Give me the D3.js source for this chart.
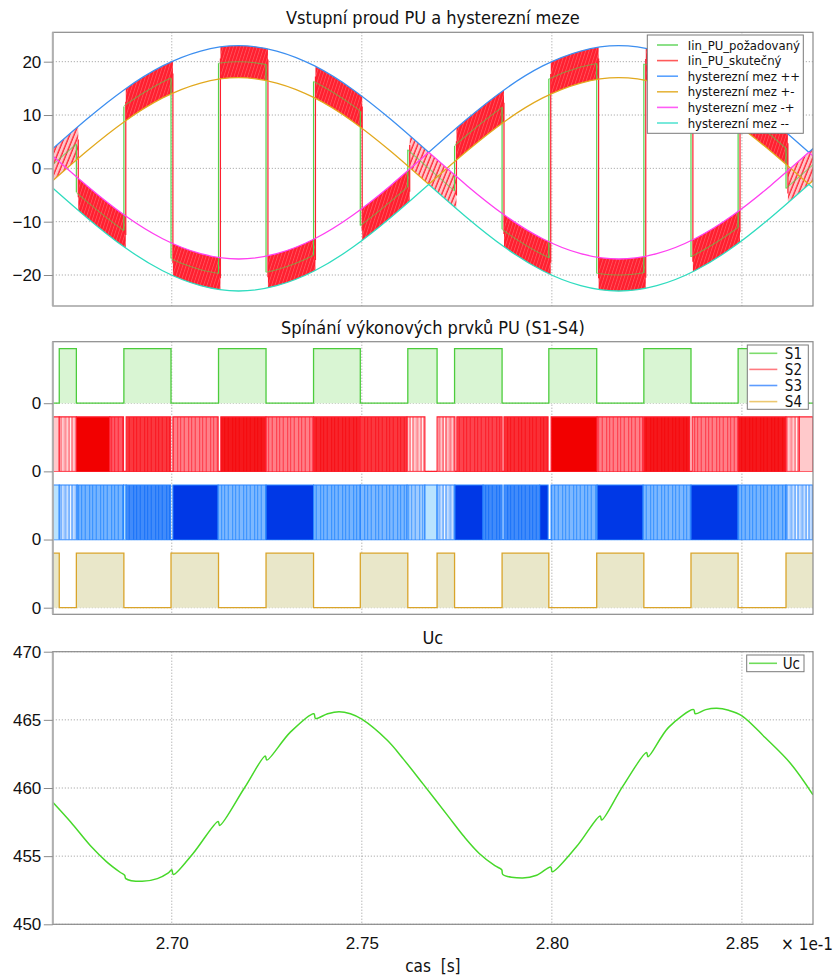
<!DOCTYPE html>
<html><head><meta charset="utf-8">
<script src="https://cdn.jsdelivr.net/npm/d3@7"></script>
<style>
body{margin:0;background:#fff;}
svg{display:block;font-family:"DejaVu Sans Condensed","DejaVu Sans",sans-serif;font-stretch:condensed;}
</style></head><body>
<svg id="chart" width="836" height="979"></svg>
<script>
// ---------------- data ----------------
const timeDomain = [2.6687, 2.8687];           // × 1e-1 s
const xTickValues = [2.70, 2.75, 2.80, 2.85];

// reference input current (signed) sampled every 1e-2 (× 1e-1 s)
const refTime = [2.6576, 2.6676, 2.6776, 2.6876, 2.6976, 2.7076, 2.7176, 2.7276, 2.7376, 2.7476, 2.7576, 2.7676,
                 2.7776, 2.7876, 2.7976, 2.8076, 2.8176, 2.8276, 2.8376, 2.8476, 2.8576, 2.8676, 2.8776];
const refValue = [-6.2, 0.0, 6.2, 11.8, 16.2, 19.0, 20.0, 19.0, 16.2, 11.8, 6.2, 0.0,
                  -6.2, -11.8, -16.2, -19.0, -20.0, -19.0, -16.2, -11.8, -6.2, 0.0, 6.2];
// hysteresis limits at the same instants
const boundPP = [9.2, 3.0, 9.2, 14.8, 19.2, 22.0, 23.0, 22.0, 19.2, 14.8, 9.2, 3.0, 9.2, 14.8, 19.2, 22.0, 23.0, 22.0, 19.2, 14.8, 9.2, 3.0, 9.2];
const boundPM = [3.2, -3.0, 3.2, 8.8, 13.2, 16.0, 17.0, 16.0, 13.2, 8.8, 3.2, -3.0, 3.2, 8.8, 13.2, 16.0, 17.0, 16.0, 13.2, 8.8, 3.2, -3.0, 3.2];
const boundMP = [-3.2, 3.0, -3.2, -8.8, -13.2, -16.0, -17.0, -16.0, -13.2, -8.8, -3.2, 3.0, -3.2, -8.8, -13.2, -16.0, -17.0, -16.0, -13.2, -8.8, -3.2, 3.0, -3.2];
const boundMM = [-9.2, -3.0, -9.2, -14.8, -19.2, -22.0, -23.0, -22.0, -19.2, -14.8, -9.2, -3.0, -9.2, -14.8, -19.2, -22.0, -23.0, -22.0, -19.2, -14.8, -9.2, -3.0, -9.2];
const hystHalfWidth = 3;

// polarity of the requested current between its switching instants
const polarityTimes = [2.6687, 2.6749, 2.6874, 2.6998, 2.7123, 2.7248, 2.7373, 2.7496, 2.7621, 2.7744,
                       2.7869, 2.7992, 2.8118, 2.8242, 2.8366, 2.8490, 2.8616, 2.8687];
const polaritySign = [1, -1, 1, -1, 1, -1, 1, -1, 1, -1, 1, -1, 1, -1, 1, -1, 1];
// slow ripple near the zero crossings (1) or fast ripple (0)
const polaritySparse = [1, 0, 0, 0, 0, 0, 0, 0, 1, 0, 0, 0, 0, 0, 0, 0, 1];
// |reference| at each interior polarity change
const refAtSwitch = [4.5, 11.6, 16.9, 19.7, 19.5, 16.3, 10.7, 3.5, 4.2, 11.4, 16.8, 19.7, 19.6, 16.6, 11.1, 3.8];
const currentLag = 0.0005;

// gate signals S1 / S4 (complementary)
const s1Edges = [2.6704, 2.6749, 2.6874, 2.6998, 2.7123, 2.7248, 2.7373, 2.7496, 2.7621, 2.7698,
                 2.7744, 2.7869, 2.7992, 2.8118, 2.8242, 2.8366, 2.8490, 2.8616];
const s1Initial = 0;
const s4Initial = 1;

// S2 / S3 high-frequency switching: [start, end, pulse density]
const s2Segments = [
  [2.6687, 2.6704, 0.1], [2.6704, 2.6749, 0.3], [2.6749, 2.6837, 1.0], [2.6837, 2.6873, 0.8],
  [2.6880, 2.6997, 0.88], [2.7003, 2.7122, 0.7], [2.7129, 2.7248, 0.95], [2.7248, 2.7373, 0.7],
  [2.7373, 2.7496, 0.92], [2.7496, 2.7619, 0.88], [2.7619, 2.7666, 0.3], [2.7698, 2.7745, 0.35],
  [2.7750, 2.7869, 0.85], [2.7874, 2.7990, 0.9], [2.7998, 2.8119, 1.0], [2.8119, 2.8240, 0.7],
  [2.8242, 2.8363, 0.95], [2.8369, 2.8490, 0.7], [2.8490, 2.8616, 0.95], [2.8616, 2.8651, 0.3],
  [2.8651, 2.8687, 0.1]
];
const s3Segments = [
  [2.6687, 2.6704, 0.1], [2.6704, 2.6751, 0.35], [2.6751, 2.6873, 0.72], [2.6873, 2.6880, 0.1],
  [2.6880, 2.6997, 0.85], [2.7003, 2.7122, 1.0], [2.7122, 2.7248, 0.7], [2.7248, 2.7373, 1.0],
  [2.7373, 2.7496, 0.72], [2.7496, 2.7619, 0.7], [2.7619, 2.7666, 0.6], [2.7666, 2.7698, 0.1],
  [2.7698, 2.7745, 0.35], [2.7745, 2.7819, 1.0], [2.7819, 2.7869, 0.85], [2.7874, 2.7968, 0.85],
  [2.7968, 2.7990, 1.0], [2.7998, 2.8119, 0.7], [2.8119, 2.8240, 1.0], [2.8240, 2.8366, 0.7],
  [2.8366, 2.8490, 1.0], [2.8490, 2.8616, 0.72], [2.8616, 2.8687, 0.35]
];

// DC-link voltage Uc
const ucTime = [2.6687, 2.6734, 2.6788, 2.6828, 2.6865, 2.6876, 2.6879, 2.6922, 2.6962, 2.6990, 2.7000, 2.7004,
  2.7056, 2.7122, 2.7126, 2.7191, 2.7246, 2.7250, 2.7312, 2.7374, 2.7378, 2.7410, 2.7440, 2.7470, 2.7500,
  2.7567, 2.7610, 2.7661, 2.7728, 2.7770, 2.7809, 2.7850, 2.7868, 2.7871, 2.7923, 2.7960, 2.7997, 2.8001,
  2.8065, 2.8127, 2.8131, 2.8186, 2.8249, 2.8253, 2.8307, 2.8373, 2.8377, 2.8405, 2.8434, 2.8465, 2.8500,
  2.8561, 2.8628, 2.8687];
const ucValue = [458.95, 457.5, 455.7, 454.6, 453.8, 453.6, 453.35, 453.15, 453.35, 453.75, 454.0, 453.65,
  455.2, 457.55, 457.25, 460.0, 462.35, 462.05, 464.1, 465.45, 465.1, 465.45, 465.6, 465.45, 465.05,
  463.5, 462.1, 460.3, 457.9, 456.4, 455.2, 454.3, 454.0, 453.65, 453.4, 453.6, 454.2, 453.85,
  455.7, 457.95, 457.65, 460.1, 462.6, 462.3, 464.45, 465.75, 465.45, 465.75, 465.85, 465.7, 465.3,
  463.7, 461.8, 459.5];

const currentTicks = [-20, -10, 0, 10, 20];
const switchOffsets = [3.75, 2.5, 1.25, 0];     // S1..S4 stacking
const voltageTicks = [450, 455, 460, 465, 470];

const currentLegend = ["Iin_PU_požadovaný", "Iin_PU_skutečný", "hysterezní mez ++", "hysterezní mez +-", "hysterezní mez -+", "hysterezní mez --"];
const switchLegend = ["S1", "S2", "S3", "S4"];

// ---------------- layout & style ----------------
const plotLeft = 52.8, plotRight = 813;
const P1 = {top: 32.3, bottom: 306, domain: [-25.81, 25.51]};
const P2 = {top: 341.7, bottom: 614.3, domain: [-0.121, 4.878]};
const P3 = {top: 651.7, bottom: 924.3, domain: [450, 470]};

const C = {
  green: "#55d24a", red: "#ff1f2f", blue: "#3d8ff0", orange: "#e2a91e", magenta: "#ff40f0", cyan: "#2fdcbf",
  s1: "#4ccc3c", s1Fill: "#d9f5d3", s2: "#ff2030", s3: "#2a86ff", s4: "#d9a42a", s4Fill: "#e9e7c9",
  uc: "#47d82a", frame: "#8a8a8a", grid: "#9a9a9a"
};
const legendColors1 = ["#6fd86a", "#ff5a5a", "#5aa2ff", "#e6b640", "#ff5cf6", "#58e4d2"];
const legendColors2 = ["#7ddc6c", "#ff7a80", "#5c9cff", "#ecc870"];
// positions of thin streaks inside one texture tile of the PWM bands
const streakTile = 11, streakPos = [0.4, 1.9, 3.1, 4.9, 6.0, 7.6, 9.3, 10.2];

const svg = d3.select("#chart");
const defs = svg.append("defs");
const x = d3.scaleLinear().domain(timeDomain).range([plotLeft, plotRight]);

function yScale(p) { return d3.scaleLinear().domain(p.domain).range([p.bottom, p.top]); }

let clipId = 0;
function plotClip(p) {
  const id = "clip" + (clipId++);
  defs.append("clipPath").attr("id", id).append("rect")
    .attr("x", plotLeft).attr("y", p.top).attr("width", plotRight - plotLeft).attr("height", p.bottom - p.top);
  return "url(#" + id + ")";
}

function drawGrid(g, p, y, yTicks) {
  g.append("g").selectAll("line").data(xTickValues).join("line")
    .attr("x1", d => x(d)).attr("x2", d => x(d)).attr("y1", p.top).attr("y2", p.bottom)
    .attr("stroke", C.grid).attr("stroke-width", 1).attr("stroke-dasharray", "1,2");
  g.append("g").selectAll("line").data(yTicks).join("line")
    .attr("x1", plotLeft).attr("x2", plotRight).attr("y1", d => y(d)).attr("y2", d => y(d))
    .attr("stroke", C.grid).attr("stroke-width", 1).attr("stroke-dasharray", "1,2");
}

function drawFrame(g, p, y, ticks, fmt) {
  g.append("rect").attr("x", plotLeft).attr("y", p.top).attr("width", plotRight - plotLeft).attr("height", p.bottom - p.top)
    .attr("fill", "none").attr("stroke", C.frame).attr("stroke-width", 1.2);
  g.append("line").attr("x1", plotLeft).attr("x2", plotLeft).attr("y1", p.top).attr("y2", p.bottom)
    .attr("stroke", "#b0b0b0").attr("stroke-width", 2);
  const ax = g.append("g").attr("transform", `translate(${plotLeft},0)`)
    .call(d3.axisLeft(y).tickValues(ticks).tickSize(9).tickPadding(2.5).tickFormat(fmt));
  ax.select(".domain").remove();
  ax.selectAll(".tick line").attr("stroke", C.frame);
  ax.selectAll(".tick text").attr("font-size", 17).attr("fill", "#111").attr("font-family", null);
}

function drawTitle(p, text) {
  svg.append("text").attr("x", (plotLeft + plotRight) / 2).attr("y", p.top - 8)
    .attr("text-anchor", "middle").attr("font-size", 18).attr("fill", "#111").text(text);
}

function drawLegend(box, names, colors, opt) {
  const g = svg.append("g");
  g.append("rect").attr("x", box.x).attr("y", box.y).attr("width", box.w).attr("height", box.h)
    .attr("fill", "#fff").attr("stroke", "#7a7a7a").attr("stroke-width", 1);
  names.forEach((n, i) => {
    const cy = box.y + opt.first + i * opt.step;
    g.append("line").attr("x1", opt.lx1).attr("x2", opt.lx2).attr("y1", cy).attr("y2", cy)
      .attr("stroke", colors[i]).attr("stroke-width", 1.6);
    g.append("text").attr("x", opt.tx).attr("y", cy).attr("dy", "0.36em")
      .attr("text-anchor", opt.anchor).attr("font-size", opt.fs).attr("fill", "#111").text(n);
  });
}

// ---------------- panel 1: input current ----------------
{
  const y = yScale(P1);
  const g = svg.append("g");
  drawGrid(g, P1, y, currentTicks);
  const plot = g.append("g").attr("clip-path", plotClip(P1));

  const ref = refTime.map((t, i) => ({t, v: refValue[i]}));

  // clip regions for each polarity (reference instant / lagging current)
  function polarityClip(sign, lag, sparse) {
    const id = "clip" + (clipId++);
    const cp = defs.append("clipPath").attr("id", id);
    polaritySign.forEach((s, i) => {
      if (s !== sign) return;
      if (sparse !== undefined && polaritySparse[i] !== sparse) return;
      const a = polarityTimes[i] + (i > 0 ? lag : 0), b = polarityTimes[i + 1] + (i + 1 < polarityTimes.length - 1 ? lag : 0);
      cp.append("rect").attr("x", x(a)).attr("y", P1.top).attr("width", Math.max(0, x(b) - x(a))).attr("height", P1.bottom - P1.top);
    });
    return "url(#" + id + ")";
  }

  // ripple texture of the measured current: fast ripple and slow ripple near zero
  const dense = defs.append("pattern").attr("id", "rippleDense").attr("patternUnits", "userSpaceOnUse")
    .attr("width", 3.4).attr("height", 40).attr("patternTransform", "skewX(-18)");
  dense.append("rect").attr("x", -1).attr("width", 6).attr("height", 40).attr("fill", C.red);
  dense.append("line").attr("x1", 0.5).attr("x2", 0.5).attr("y1", 0).attr("y2", 40)
    .attr("stroke", "#ff7c86").attr("stroke-width", 0.5);
  const sparse = defs.append("pattern").attr("id", "rippleSparse").attr("patternUnits", "userSpaceOnUse")
    .attr("width", 4.4).attr("height", 40).attr("patternTransform", "skewX(-22)");
  sparse.append("rect").attr("x", -1).attr("width", 7).attr("height", 40).attr("fill", "#ffc4c8");
  sparse.append("line").attr("x1", 1).attr("x2", 1).attr("y1", 0).attr("y2", 40)
    .attr("stroke", C.red).attr("stroke-width", 1.4);

  [1, -1].forEach(sign => {
    const band = d3.area().curve(d3.curveNatural)
      .x(d => x(d.t)).y0(d => y(sign * d.v - hystHalfWidth)).y1(d => y(sign * d.v + hystHalfWidth));
    plot.append("path").datum(ref).attr("d", band).attr("fill", "url(#rippleDense)")
      .attr("clip-path", polarityClip(sign, currentLag, 0));
    plot.append("path").datum(ref).attr("d", band).attr("fill", "url(#rippleSparse)")
      .attr("clip-path", polarityClip(sign, currentLag, 1));
  });
  // current transitions between the bands
  plot.append("g").selectAll("line").data(refAtSwitch).join("line")
    .attr("x1", (d, i) => x(polarityTimes[i + 1] + currentLag)).attr("x2", (d, i) => x(polarityTimes[i + 1] + currentLag))
    .attr("y1", d => y(d + hystHalfWidth * 0.3)).attr("y2", d => y(-d - hystHalfWidth * 0.3))
    .attr("stroke", C.red).attr("stroke-width", 1.2);

  // requested current
  [1, -1].forEach(sign => {
    const line = d3.line().curve(d3.curveNatural).x(d => x(d.t)).y(d => y(sign * d.v));
    plot.append("path").datum(ref).attr("d", line).attr("fill", "none")
      .attr("stroke", C.green).attr("stroke-width", 1.1).attr("opacity", 0.6)
      .attr("clip-path", polarityClip(sign, 0));
  });
  plot.append("g").selectAll("line").data(refAtSwitch).join("line")
    .attr("x1", (d, i) => x(polarityTimes[i + 1])).attr("x2", (d, i) => x(polarityTimes[i + 1]))
    .attr("y1", d => y(d)).attr("y2", d => y(-d))
    .attr("stroke", C.green).attr("stroke-width", 1.2);

  // hysteresis limits, one arch at a time
  const zeroIdx = refValue.map((v, i) => v === 0 ? i : -1).filter(i => i >= 0);
  const cuts = [0, ...zeroIdx, refValue.length - 1];
  [[boundPP, C.blue], [boundPM, C.orange], [boundMP, C.magenta], [boundMM, C.cyan]].forEach(([arr, col]) => {
    const line = d3.line().curve(d3.curveNatural).x(d => x(d.t)).y(d => y(d.v));
    for (let k = 0; k < cuts.length - 1; k++) {
      const pts = [];
      for (let i = cuts[k]; i <= cuts[k + 1]; i++) pts.push({t: refTime[i], v: arr[i]});
      plot.append("path").datum(pts).attr("d", line).attr("fill", "none").attr("stroke", col).attr("stroke-width", 1.3);
    }
  });

  drawFrame(g, P1, y, currentTicks, d3.format("d"));
  drawTitle(P1, "Vstupní proud PU a hysterezní meze");
  drawLegend({x: 647.3, y: 35, w: 156, h: 98.3}, currentLegend, legendColors1,
    {first: 10, step: 15.6, lx1: 657, lx2: 678, tx: 687.7, anchor: "start", fs: 13});
}

// ---------------- panel 2: switching ----------------
{
  const y = yScale(P2);
  const g = svg.append("g");
  drawGrid(g, P2, y, switchOffsets);
  const plot = g.append("g").attr("clip-path", plotClip(P2));

  function stepPoints(initial) {
    const pts = [{t: timeDomain[0], v: initial}];
    let v = initial;
    s1Edges.forEach(t => { v = 1 - v; pts.push({t, v}); });
    pts.push({t: timeDomain[1], v});
    return pts;
  }
  function drawGate(initial, off, stroke, fill) {
    const pts = stepPoints(initial);
    plot.append("path").datum(pts)
      .attr("d", d3.area().curve(d3.curveStepAfter).x(d => x(d.t)).y0(y(off)).y1(d => y(off + d.v)))
      .attr("fill", fill);
    plot.append("path").datum(pts)
      .attr("d", d3.line().curve(d3.curveStepAfter).x(d => x(d.t)).y(d => y(off + d.v)))
      .attr("fill", "none").attr("stroke", stroke).attr("stroke-width", 1.3);
  }
  function streakPattern(id, color, width) {
    const p = defs.append("pattern").attr("id", id).attr("patternUnits", "userSpaceOnUse")
      .attr("width", streakTile).attr("height", 10);
    streakPos.forEach(s => p.append("rect").attr("x", s).attr("y", 0).attr("width", width).attr("height", 10).attr("fill", color));
    return "url(#" + id + ")";
  }
  function drawPwm(key, segs, off, stroke, light, colorOf) {
    const whiteStreaks = streakPattern(key + "White", "#fff", 0.55);
    const colorLines = streakPattern(key + "Lines", stroke, 0.9);
    plot.append("line").attr("x1", plotLeft).attr("x2", plotRight).attr("y1", y(off)).attr("y2", y(off))
      .attr("stroke", stroke).attr("stroke-width", 1.2);
    const gs = plot.append("g");
    segs.forEach(d => {
      const x0 = x(d[0]), w = x(d[1]) - x(d[0]), yTop = y(off + 1), h = y(off) - y(off + 1);
      const lv = d[2];
      if (lv < 0.2) {
        gs.append("rect").attr("x", x0).attr("y", yTop).attr("width", w).attr("height", h).attr("fill", light);
      } else if (lv < 0.5) {
        gs.append("rect").attr("x", x0).attr("y", yTop).attr("width", w).attr("height", h).attr("fill", "#fff").attr("opacity", 0.6);
        gs.append("rect").attr("x", x0).attr("y", yTop).attr("width", w).attr("height", h).attr("fill", colorLines).attr("opacity", lv * 2);
      } else {
        gs.append("rect").attr("x", x0).attr("y", yTop).attr("width", w).attr("height", h).attr("fill", colorOf(lv));
        gs.append("rect").attr("x", x0).attr("y", yTop).attr("width", w).attr("height", h).attr("fill", whiteStreaks)
          .attr("opacity", Math.min(1, (1 - lv) * 2.2));
      }
      gs.append("path").attr("d", `M${x0},${y(off)}V${yTop}H${x0 + w}V${y(off)}`)
        .attr("fill", "none").attr("stroke", stroke).attr("stroke-width", 1.1);
    });
  }
  drawGate(s1Initial, switchOffsets[0], C.s1, C.s1Fill);
  drawPwm("s2", s2Segments, switchOffsets[1], C.s2, "#ffc9cb",
    d3.scaleLinear().domain([0.5, 0.8, 1]).range(["#ff5a66", "#ff2434", "#f20000"]).clamp(true));
  drawPwm("s3", s3Segments, switchOffsets[2], C.s3, "#b9e3ff",
    d3.scaleLinear().domain([0.5, 0.8, 1]).range(["#5aa6ff", "#1f84ff", "#0038e6"]).clamp(true));
  drawGate(s4Initial, switchOffsets[3], C.s4, C.s4Fill);

  drawFrame(g, P2, y, switchOffsets, () => "0");
  drawTitle(P2, "Spínání výkonových prvků PU (S1-S4)");
  drawLegend({x: 747.3, y: 345, w: 61, h: 64.3}, switchLegend, legendColors2,
    {first: 8.3, step: 16.1, lx1: 749.3, lx2: 777.3, tx: 802, anchor: "end", fs: 15});
}

// ---------------- panel 3: DC-link voltage ----------------
{
  const y = yScale(P3);
  const g = svg.append("g");
  drawGrid(g, P3, y, voltageTicks);
  const plot = g.append("g").attr("clip-path", plotClip(P3));
  const pts = ucTime.map((t, i) => ({t, v: ucValue[i]}));
  plot.append("path").datum(pts)
    .attr("d", d3.line().curve(d3.curveCatmullRom.alpha(0.5)).x(d => x(d.t)).y(d => y(d.v)))
    .attr("fill", "none").attr("stroke", C.uc).attr("stroke-width", 1.5);

  drawFrame(g, P3, y, voltageTicks, d3.format("d"));
  drawTitle(P3, "Uc");
  drawLegend({x: 746.7, y: 655, w: 57.3, h: 16.7}, ["Uc"], ["#6fdc5a"],
    {first: 8.3, step: 16, lx1: 749, lx2: 777, tx: 800, anchor: "end", fs: 15});

  const xa = svg.append("g").attr("transform", `translate(0,${P3.bottom})`)
    .call(d3.axisBottom(x).tickValues(xTickValues).tickSize(0).tickPadding(13).tickFormat(d3.format(".2f")));
  xa.select(".domain").remove();
  xa.selectAll(".tick text").attr("font-size", 17).attr("fill", "#111").attr("font-family", null);
  svg.append("text").attr("x", 781).attr("y", 949.5).attr("font-size", 17).attr("fill", "#111").text("× 1e-1");
  svg.append("text").attr("x", (plotLeft + plotRight) / 2).attr("y", 972).attr("text-anchor", "middle")
    .attr("font-size", 17).attr("fill", "#111").attr("xml:space", "preserve").text("cas  [s]");
}
</script>
</body></html>
